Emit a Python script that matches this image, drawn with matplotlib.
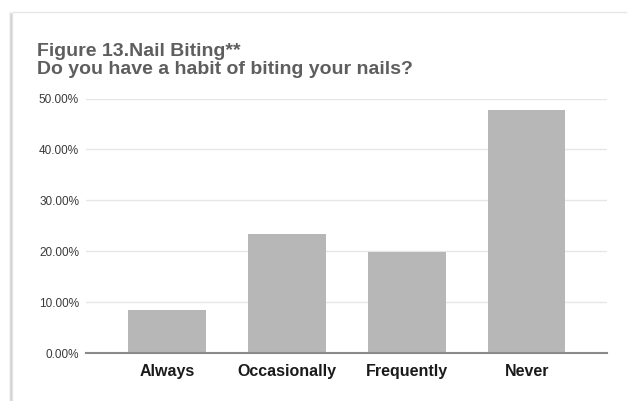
import matplotlib.pyplot as plt
from matplotlib.patches import Rectangle
from matplotlib.ticker import FuncFormatter

categories = ['Always', 'Occasionally', 'Frequently', 'Never']
shares = [8.5, 23.4, 19.8, 47.7]  # percent
yticks = [0, 10, 20, 30, 40, 50]

plt.rcParams['font.family'] = ['Liberation Sans', 'DejaVu Sans']

fig = plt.figure(figsize=(6.27, 4.01), dpi=100)
fig.patch.set_facecolor('white')

W, H = 627, 401

# card with a soft shadow on the left edge
for i, a in enumerate([0.10, 0.18, 0.30]):
    fig.add_artist(Rectangle(((9 + i) / W, -0.1), 2 / W, 1.1 - (12 + i) / H,
                             transform=fig.transFigure, facecolor='#888888',
                             alpha=a, edgecolor='none', zorder=-3))
fig.add_artist(Rectangle((12 / W, -0.1), 1.2, 1.1 - 12 / H,
                         transform=fig.transFigure, facecolor='white',
                         edgecolor='#e6e6e6', linewidth=1.0, zorder=-2))

ax = fig.add_axes([86 / W, 1 - 353 / H, (607 - 86) / W, (353 - 98.5) / H])
x = range(len(categories))
ax.bar(x, shares, width=0.647, color='#b7b7b7', zorder=2)

ax.set_xlim(-0.675, 3.67)
ax.set_ylim(0, 50)
ax.set_yticks(yticks)
ax.yaxis.set_major_formatter(FuncFormatter(lambda v, p: f'{v:.2f}%'))
ax.grid(axis='y', color='#e6e6e6', linewidth=1.0, zorder=0)
ax.set_axisbelow(True)

for s in ['top', 'right', 'left']:
    ax.spines[s].set_visible(False)
ax.spines['bottom'].set_color('#8a8a8a')
ax.spines['bottom'].set_linewidth(1.5)
ax.spines['bottom'].set_zorder(3)

ax.tick_params(axis='y', length=0, pad=5, labelsize=8.5, labelcolor='#3a3a3a')
ax.tick_params(axis='x', length=0, pad=8, labelsize=11.5, labelcolor='#1a1a1a')
ax.set_xticks(list(x))
ax.set_xticklabels(categories, fontweight='bold')
ax.set_facecolor('none')

fig.text(37 / W, 1 - 56.5 / H, 'Figure 13.Nail Biting**', fontsize=14,
         fontweight='bold', color='#5e5e5e', va='baseline')
fig.text(37 / W, 1 - 74.5 / H, 'Do you have a habit of biting your nails?',
         fontsize=14, fontweight='bold', color='#5e5e5e', va='baseline')

fig.savefig('out.png', dpi=100)
